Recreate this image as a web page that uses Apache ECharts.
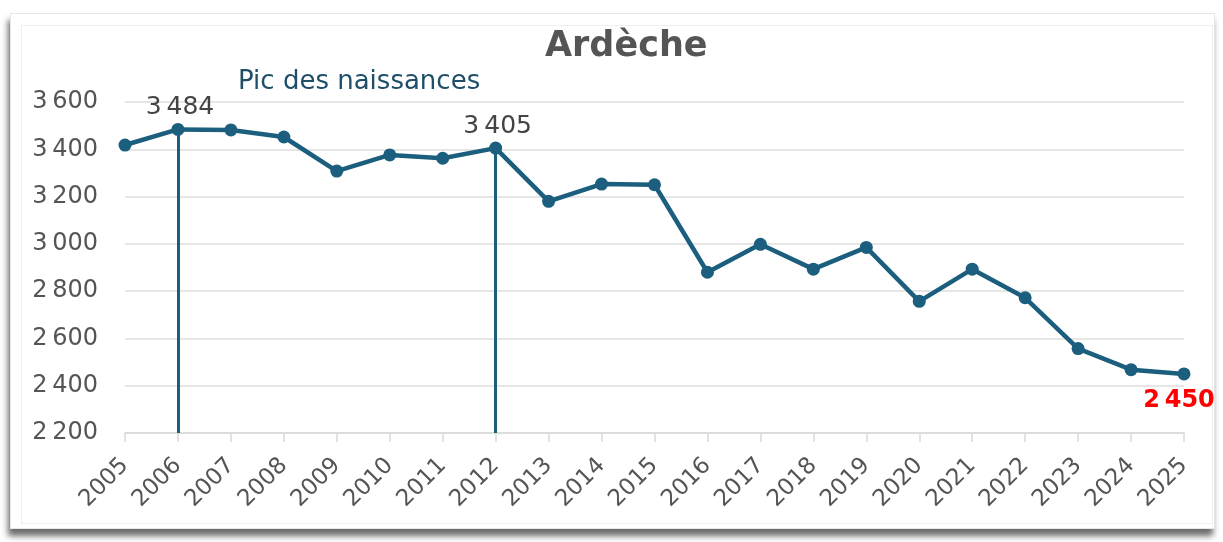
<!DOCTYPE html>
<html>
<head>
<meta charset="utf-8">
<script src="https://cdn.jsdelivr.net/npm/echarts@6/dist/echarts.min.js"></script>
<style>
  html, body { margin: 0; padding: 0; background: #fff; }
  .frame {
    position: absolute; left: 10px; top: 13px; width: 1203px; height: 514px;
    background: #fff; border: 1px solid #e6e6e6;
    box-shadow: -2px 7px 6px rgba(60, 60, 60, 0.75);
  }
  .inner {
    position: absolute; left: 21px; top: 25px; width: 1190px; height: 497px;
    border: 1px solid #eeeeee;
  }
  #birthChart { position: absolute; left: 0; top: 0; width: 1223px; height: 542px; }
</style>
</head>
<body>
<div class="frame"></div>
<div class="inner"></div>
<div id="birthChart"></div>
<script>
// naissances par année en Ardèche
const years = ['2005', '2006', '2007', '2008', '2009', '2010', '2011', '2012', '2013', '2014', '2015',
  '2016', '2017', '2018', '2019', '2020', '2021', '2022', '2023', '2024', '2025'];
const births = [3418, 3484, 3482, 3452, 3308, 3376, 3362, 3405, 3180, 3253, 3250,
  2880, 2998, 2893, 2985, 2757, 2893, 2772, 2557, 2468, 2450];
const peakYears = ['2006', '2012'];
const lastYear = '2025';

const lineColor = '#1b5e7e';
const font = '"DejaVu Sans", sans-serif';

function fmt(v) {
  return String(v).replace(/\B(?=(\d{3})+(?!\d))/g, '\u2009');
}

let chart = echarts.init(document.getElementById('birthChart'));

let points = births.map((v, i) => {
  let item = { value: v };
  if (peakYears.includes(years[i])) {
    item.label = {
      show: true, position: 'top', distance: 3, offset: [2, 0],
      color: '#444', fontSize: 25, fontFamily: font
    };
  }
  if (years[i] === lastYear) {
    item.label = {
      show: true, position: 'bottom', distance: 8, offset: [-5, 0],
      color: '#ff0000', fontSize: 24, fontWeight: 'bold', fontFamily: font
    };
  }
  return item;
});

let peakLines = peakYears.map(y => {
  let v = births[years.indexOf(y)];
  return [{ coord: [y, v] }, { coord: [y, 2200] }];
});

chart.setOption({
  backgroundColor: 'transparent',
  animation: false,
  title: {
    text: 'Ardèche',
    left: 540,
    top: 24,
    textStyle: { color: '#555', fontSize: 35, fontWeight: 'bold', fontFamily: font }
  },
  graphic: [{
    type: 'text',
    left: 238,
    top: 69,
    style: { text: 'Pic des naissances', fill: '#1e4e68', fontSize: 26, fontFamily: font }
  }],
  grid: { left: 125, right: 39, top: 102, bottom: 109 },
  xAxis: {
    type: 'category',
    boundaryGap: false,
    data: years,
    axisLine: { lineStyle: { color: '#d9d9d9', width: 1.5 } },
    axisTick: { show: true, length: 9, lineStyle: { color: '#d9d9d9', width: 1.5 } },
    axisLabel: {
      rotate: 45, color: '#555', fontSize: 23, margin: 29,
      fontFamily: font
    }
  },
  yAxis: {
    type: 'value',
    min: 2200,
    max: 3600,
    interval: 200,
    axisLine: { show: false },
    axisTick: { show: false },
    axisLabel: {
      color: '#555', fontSize: 24, margin: 27,
      fontFamily: font,
      formatter: v => fmt(v)
    },
    splitLine: { lineStyle: { color: '#dedede', width: 1.5 } }
  },
  series: [{
    type: 'line',
    data: points,
    symbol: 'circle',
    symbolSize: 13,
    itemStyle: { color: lineColor },
    lineStyle: { color: lineColor, width: 4.5 },
    label: { show: false, formatter: p => fmt(p.value) },
    markLine: {
      silent: true,
      symbol: ['none', 'none'],
      label: { show: false },
      lineStyle: { color: lineColor, width: 3, type: 'solid' },
      data: peakLines
    }
  }]
});
</script>
</body>
</html>
